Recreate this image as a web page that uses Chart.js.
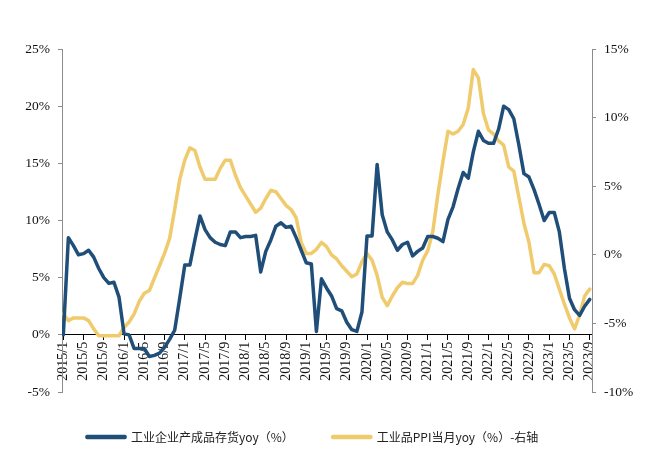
<!DOCTYPE html>
<html>
<head>
<meta charset="utf-8">
<script src="https://cdn.jsdelivr.net/npm/chart.js@4.4.0/dist/chart.umd.min.js"></script>
<style>
  html, body { margin: 0; padding: 0; background: #fff; }
  #wrap { width: 662px; height: 464px; }
</style>
</head>
<body>
<div id="wrap"><canvas id="myChart" width="662" height="464"></canvas></div>
<script>
// months 2015/1 .. 2023/9
var months = [];
for (var k = 0; k < 105; k++) {
  months.push((2015 + Math.floor(k / 12)) + '/' + (k % 12 + 1));
}

// 工业企业产成品存货 yoy (%), left axis
var inventory = [
  0, 8.5, 7.8, 7.0, 7.1, 7.4, 6.8, 5.8, 5.0, 4.5, 4.6, 3.3,
  0.1, 0.0, -1.2, -1.2, -1.2, -1.9, -1.8, -1.6, -1.1, -0.4, 0.4, 3.2,
  6.1, 6.1, 8.3, 10.4, 9.2, 8.5, 8.1, 7.9, 7.8, 9.0, 9.0, 8.5,
  8.6, 8.6, 8.7, 5.5, 7.3, 8.3, 9.5, 9.8, 9.4, 9.5, 8.5, 7.4,
  6.3, 6.2, 0.3, 4.9, 4.1, 3.4, 2.3, 2.1, 1.1, 0.45, 0.3, 2.0,
  8.65, 8.65, 14.9, 10.5, 9.0, 8.3, 7.4, 7.9, 8.1, 6.9, 7.3, 7.6,
  8.6, 8.6, 8.45, 8.15, 10.1, 11.2, 12.8, 14.2, 13.7, 16.0, 17.8, 17.0,
  16.75, 16.75, 18.0, 20.0, 19.7, 18.9, 16.6, 14.1, 13.8, 12.7, 11.4, 10.0,
  10.7, 10.7, 9.0, 5.8, 3.2, 2.2, 1.7, 2.5, 3.1
];

// 工业品PPI 当月 yoy (%), right axis
var ppi = [
  -4.3, -4.8, -4.6, -4.6, -4.6, -4.8, -5.4, -5.9, -5.9, -5.9, -5.9, -5.9,
  -5.3, -4.9, -4.3, -3.4, -2.8, -2.6, -1.7, -0.8, 0.1, 1.2, 3.3, 5.5,
  6.9, 7.8, 7.6, 6.4, 5.5, 5.5, 5.5, 6.3, 6.9, 6.9, 5.8, 4.9,
  4.3, 3.7, 3.1, 3.4, 4.1, 4.7, 4.6, 4.1, 3.6, 3.3, 2.7, 0.9,
  0.1, 0.1, 0.4, 0.9, 0.6, 0.0, -0.3, -0.8, -1.2, -1.6, -1.4, -0.5,
  0.1, -0.4, -1.5, -3.1, -3.7, -3.0, -2.4, -2.0, -2.1, -2.1, -1.5, -0.4,
  0.3, 1.7, 4.4, 6.8, 9.0, 8.8, 9.0, 9.5, 10.7, 13.5, 12.9, 10.3,
  9.1, 8.8, 8.3, 8.0, 6.4, 6.1, 4.2, 2.3, 0.9, -1.3, -1.3, -0.7,
  -0.8, -1.4, -2.5, -3.6, -4.6, -5.4, -4.4, -3.0, -2.5
];

var leftTicks = [-5, 0, 5, 10, 15, 20, 25];
var rightTicks = [-10, -5, 0, 5, 10, 15];
var xTickIdx = [];
for (var t = 0; t < months.length; t += 4) xTickIdx.push(t);

var blue = '#1f4e79';
var gold = '#f0cb6e';
var serif = { family: '"Liberation Serif", "Times New Roman", serif', size: 13.5 };

function toPoints(arr) {
  return arr.map(function(v, i) { return { x: i, y: v }; });
}

// legend sits a bit right of the canvas edge in the original
var legendShift = {
  id: 'legendShift',
  afterLayout: function(chart) {
    chart.legend.left = 48;
  }
};

var ctx = document.getElementById('myChart').getContext('2d');
var myChart = new Chart(ctx, {
  type: 'line',
  data: {
    datasets: [{
      label: '工业企业产成品存货yoy（%）',
      data: toPoints(inventory),
      yAxisID: 'y',
      borderColor: blue,
      backgroundColor: blue,
      borderWidth: 3.5,
      borderJoinStyle: 'round',
      borderCapStyle: 'round',
      pointRadius: 0,
      tension: 0
    }, {
      label: '工业品PPI当月yoy（%）-右轴',
      data: toPoints(ppi),
      yAxisID: 'y1',
      borderColor: gold,
      backgroundColor: gold,
      borderWidth: 3.5,
      borderJoinStyle: 'round',
      borderCapStyle: 'round',
      pointRadius: 0,
      tension: 0
    }]
  },
  options: {
    responsive: false,
    animation: false,
    layout: { padding: { left: 0, right: 0, top: 49, bottom: 11 } },
    plugins: {
      legend: {
        position: 'bottom',
        align: 'start',
        labels: {
          boxWidth: 38,
          boxHeight: 1,
          padding: 39,
          color: '#222',
          font: { family: '"Noto Sans CJK SC", sans-serif', size: 12 }
        }
      },
      tooltip: { enabled: false }
    },
    scales: {
      x: {
        type: 'linear',
        position: { y: 0 },
        min: -0.26,
        max: 104.45,
        afterBuildTicks: function(scale) {
          scale.ticks = xTickIdx.map(function(v) { return { value: v }; });
        },
        ticks: {
          autoSkip: false,
          maxRotation: 90,
          minRotation: 90,
          padding: 2,
          color: '#111',
          font: { family: serif.family, size: 14 },
          callback: function(v) { return months[v]; }
        },
        grid: { drawOnChartArea: false, tickLength: 5, tickColor: '#000' },
        border: { color: '#000', width: 1 }
      },
      y: {
        position: 'left',
        min: -5,
        max: 25,
        afterBuildTicks: function(scale) {
          scale.ticks = leftTicks.map(function(v) { return { value: v }; });
        },
        afterFit: function(scale) { scale.width = 62; },
        ticks: {
          padding: 8,
          color: '#111',
          font: serif,
          callback: function(v) { return v + '%'; }
        },
        grid: { drawOnChartArea: false, tickLength: 4, tickColor: '#8c8c8c' },
        border: { color: '#8c8c8c', width: 1 }
      },
      y1: {
        position: 'right',
        min: -10,
        max: 15,
        afterBuildTicks: function(scale) {
          scale.ticks = rightTicks.map(function(v) { return { value: v }; });
        },
        afterFit: function(scale) { scale.width = 70; },
        ticks: {
          padding: 8,
          color: '#111',
          font: serif,
          callback: function(v) { return v + '%'; }
        },
        grid: { drawOnChartArea: false, tickLength: 4, tickColor: '#8c8c8c' },
        border: { color: '#8c8c8c', width: 1 }
      }
    }
  },
  plugins: [legendShift]
});
</script>
</body>
</html>
